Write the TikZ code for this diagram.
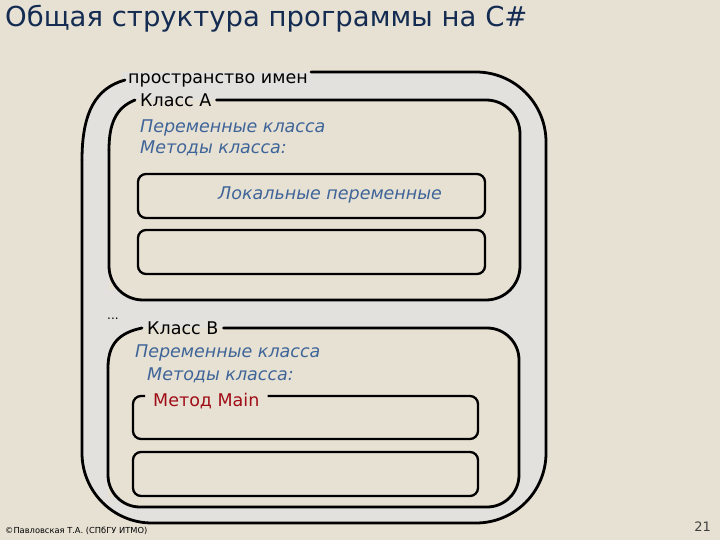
\documentclass[tikz,border=0pt]{standalone}
\usepackage{fontspec}
\setmainfont{DejaVu Sans}
\usepackage{tikz}
\usetikzlibrary{positioning}
\definecolor{PageBeige}{RGB}{231,225,212}
\definecolor{RingGrey}{RGB}{227,225,222}
\definecolor{TitleNavy}{RGB}{20,44,82}
\definecolor{MemberBlue}{RGB}{62,100,152}
\definecolor{MainRed}{RGB}{160,12,22}

\begin{document}
\begin{tikzpicture}[x=1pt, y=-1pt,
    frame/.style={line width=2.8pt, line cap=round, line join=round},
    slot/.style={line width=2.3pt, rounded corners=8pt},
    tag/.style={anchor=west, inner xsep=5pt, inner ysep=2pt, font=\fontsize{17.5}{19}\selectfont},
    member/.style={anchor=west, inner sep=0pt, text=MemberBlue, font=\fontsize{17.5}{19}\selectfont\itshape}]
    % Page
    \fill[PageBeige] (0,0) rectangle (720,540);
    \useasboundingbox (0,0) rectangle (720,540);

    % Fills
    \fill[RingGrey] (122,80) .. controls (96,88) and (82,112) .. (82,160) -- (82,300) -- (420,300) -- (420,72) -- (122,72) -- cycle;
    \fill[RingGrey, rounded corners=70pt] (82,230) -- (82,523) -- (546,523) -- (546,72) -- (320,72) -- (320,230) -- cycle;
    \fill[PageBeige] (135,100) .. controls (115,108) and (109,125) .. (109,150) -- (109,290) -- (420,290) -- (420,100) -- cycle;
    \fill[PageBeige, rounded corners=34pt] (109,220) -- (109,300) -- (520,300) -- (520,100) -- (300,100) -- (300,220) -- cycle;
    \fill[PageBeige] (142,328) .. controls (118,333) and (108,345) .. (108,368) -- (108,497) -- (420,497) -- (420,328) -- cycle;
    \fill[PageBeige, rounded corners=32pt] (108,430) -- (108,507) -- (519,507) -- (519,328) -- (300,328) -- (300,430) -- cycle;

    % Headers
    \node[anchor=west, inner sep=0pt, text=TitleNavy, font=\fontsize{27.5}{30}\selectfont] (title) at (5,19) {Общая структура программы на C\#};
    \node[anchor=west, inner sep=0pt, font=\fontsize{8.3}{9}\selectfont] (author) at (5,531) {©Павловская Т.А. (СПбГУ ИТМО)};
    \node[anchor=east, inner sep=0pt, text=black!75, font=\fontsize{13}{14}\selectfont] (page) at (711,527) {21};

    % Namespace
    \node[tag, inner xsep=3pt] (ns) at (125,80) {пространство имен};
    \draw[frame] (ns.west) .. controls (96,88) and (82,112) .. (82,160);
    \draw[frame, rounded corners=70pt] (82,160) -- (82,523) -- (546,523) -- (546,72) -- ([yshift=8pt]ns.east);
    \node[anchor=base west, inner sep=0pt, font=\fontsize{12}{13}\selectfont] (more) at (107,319) {...};

    % Class A
    \node[tag] (clsA) at (135,100) {Класс А};
    \draw[frame] (clsA.west) .. controls (115,108) and (109,125) .. (109,150);
    \draw[frame, rounded corners=34pt] (109,150) -- (109,300) -- (520,300) -- (520,100) -- (clsA.east);
    \node[member] (varsA) at (140,128) {Переменные класса};
    \node[member] (methA) at (140,148) {Методы класса:};
    \draw[slot] (138,174) rectangle (485,218);
    \node[member] (locA) at (218,195) {Локальные переменные};
    \draw[slot] (138,230) rectangle (485,274);

    % Class B
    \node[tag] (clsB) at (142,328) {Класс В};
    \draw[frame] (clsB.west) .. controls (118,333) and (108,345) .. (108,368);
    \draw[frame, rounded corners=32pt] (108,368) -- (108,507) -- (519,507) -- (519,328) -- (clsB.east);
    \node[member] (varsB) at (135,353) {Переменные класса};
    \node[member] (methB) at (147,375) {Методы класса:};
    \node[tag, inner xsep=8pt, text=MainRed] (mainB) at (145,401) {Метод Main};
    \draw[slot] ([yshift=5pt]mainB.west) -- (133,396) -- (133,439) -- (478,439) -- (478,396) -- ([yshift=5pt]mainB.east);
    \draw[slot] (133,452) rectangle (478,496);
  \end{tikzpicture}
\end{document}
